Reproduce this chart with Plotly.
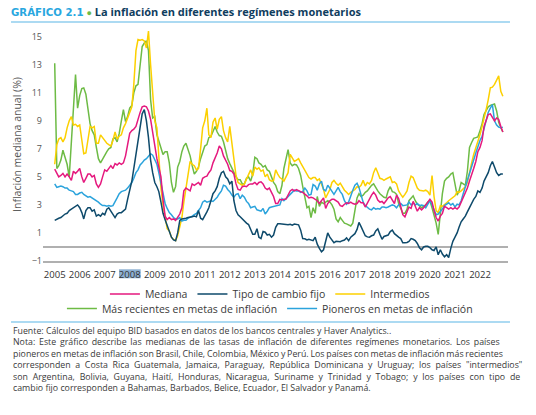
import pandas as pd
import plotly.graph_objects as go

# monthly data, Jan 2005 - Dec 2022 (one row per year)
fechas = pd.date_range("2005-01-01", "2022-12-01", freq="MS")

mediana = [
    5.55, 5.2, 5.0, 5.1, 5.25, 5.0, 5.2, 5.0, 4.75, 5.4, 5.25, 5.4,
    5.6, 5.0, 4.6, 4.9, 5.2, 5.2, 5.0, 5.1, 4.5, 4.25, 4.5, 5.0,
    5.5, 5.4, 5.6, 5.8, 5.6, 5.95, 5.85, 6.0, 5.9, 6.0, 6.5, 7.2,
    8.1, 8.3, 8.4, 8.6, 9.2, 9.6, 10.0, 10.05, 10.0, 9.7, 9.1, 8.1,
    7.0, 6.3, 5.7, 5.0, 3.4, 2.2, 1.95, 2.1, 1.95, 2.0, 1.9, 2.1,
    2.35, 2.8, 4.0, 4.2, 4.1, 4.0, 4.5, 4.4, 4.5, 4.6, 4.4, 4.9,
    5.0, 5.05, 5.3, 5.5, 6.0, 6.35, 6.7, 7.2, 7.0, 6.5, 6.2, 5.9,
    5.45, 5.4, 5.2, 4.5, 4.1, 4.05, 4.3, 4.35, 4.3, 4.45, 4.5, 4.5,
    4.6, 4.45, 4.6, 4.65, 4.5, 4.2, 4.1, 4.2, 3.9, 3.6, 3.1, 3.1,
    3.4, 3.35, 3.4, 3.42, 3.7, 4.0, 4.1, 4.0, 4.1, 4.0, 3.95, 3.9,
    3.8, 3.65, 3.5, 3.55, 3.5, 3.4, 3.3, 3.1, 3.35, 3.5, 2.75, 3.1,
    3.3, 3.4, 3.4, 3.3, 3.2, 2.95, 2.9, 3.05, 3.15, 3.1, 3.2, 3.1,
    3.05, 3.1, 3.3, 3.15, 3.15, 2.85, 3.15, 3.4, 3.7, 3.9, 3.7, 3.35,
    3.2, 3.25, 3.1, 3.3, 3.5, 3.6, 3.3, 3.1, 3.7, 3.45, 2.9, 2.3,
    2.15, 2.5, 2.85, 2.75, 3.25, 2.9, 2.55, 2.8, 2.65, 2.8, 3.05, 3.2,
    3.4, 3.2, 2.6, 2.1, 1.85, 2.2, 2.4, 2.9, 2.8, 2.7, 2.8, 2.7,
    2.8, 2.7, 2.85, 3.2, 3.6, 3.9, 4.2, 4.7, 5.1, 5.6, 6.1, 6.8,
    7.1, 7.6, 8.6, 9.1, 9.45, 9.5, 9.2, 9.0, 9.2, 9.1, 8.6, 8.2,
]

cambio_fijo = [
    1.9, 2.0, 2.05, 2.1, 2.25, 2.35, 2.4, 2.6, 2.7, 2.8, 2.95, 3.0,
    2.8, 2.45, 2.0, 2.6, 2.8, 2.8, 2.55, 2.65, 2.2, 2.3, 2.2, 2.4,
    2.3, 2.7, 2.8, 2.55, 2.3, 2.1, 2.35, 2.45, 2.45, 2.55, 2.7, 3.4,
    4.0, 4.7, 5.6, 6.6, 7.5, 8.6, 9.5, 9.8, 9.0, 7.8, 6.2, 5.3,
    4.6, 4.3, 3.95, 3.2, 2.4, 1.95, 1.5, 1.1, 0.7, 0.5, 0.45, 1.0,
    1.9, 2.0, 2.0, 2.05, 2.1, 2.1, 2.15, 2.2, 2.15, 2.6, 2.05, 1.95,
    2.2, 2.5, 2.8, 3.3, 3.8, 4.0, 4.3, 4.9, 5.3, 5.4, 5.0, 4.85,
    4.5, 4.7, 3.3, 2.6, 2.3, 2.15, 2.0, 1.8, 1.7, 1.6, 1.3, 0.9,
    0.9, 1.3, 0.7, 0.6, 1.1, 1.05, 0.85, 0.9, 0.7, 0.85, 1.4, 1.65,
    1.65, 1.62, 1.63, 1.6, 1.58, 1.62, 1.55, 1.63, 1.6, 1.58, 1.2, 0.6,
    0.58, 0.5, 0.55, 0.5, 0.45, 0.7, 0.2, -0.1, -0.35, -0.2, 0.4, 1.0,
    0.7, 0.45, 0.3, 0.4, 0.4, 0.38, 0.45, 0.5, 0.65, 0.45, 0.7, 0.8,
    0.95, 1.25, 1.75, 1.45, 1.1, 0.8, 0.72, 0.7, 0.8, 0.85, 1.15, 1.3,
    0.9, 0.55, 0.75, 0.78, 0.85, 1.1, 1.2, 0.95, 0.8, 0.7, 0.6, 0.3,
    0.3, 0.32, 0.4, 0.6, 0.55, 0.45, 0.25, -0.05, -0.2, 0.0, 0.05, 0.05,
    -0.05, -0.2, -0.25, 0.0, -0.55, -0.2, -0.5, -0.7, -0.55, -0.75, -0.1, 0.4,
    0.7, 1.0, 1.4, 1.8, 2.0, 2.2, 2.5, 2.8, 3.2, 3.4, 3.6, 4.0,
    3.9, 4.2, 4.7, 5.0, 5.3, 5.8, 6.1, 5.7, 5.3, 5.1, 5.2, 5.2,
]

intermedios = [
    5.9, 7.3, 7.7, 7.8, 7.5, 7.8, 8.5, 9.0, 9.3, 8.7, 8.75, 8.6,
    8.7, 7.5, 6.65, 6.7, 7.6, 8.6, 8.5, 8.6, 7.4, 7.4, 8.0, 7.8,
    7.6, 7.4, 7.3, 7.2, 7.6, 8.2, 7.7, 7.9, 8.0, 8.5, 8.8, 9.2,
    9.6, 10.0, 11.6, 14.0, 14.8, 14.75, 14.8, 14.7, 14.2, 15.4, 13.0, 11.0,
    9.0, 8.5, 6.5, 4.2, 3.0, 2.0, 1.3, 1.15, 0.7, 0.55, 0.45, 0.8,
    1.4, 2.1, 3.2, 4.1, 5.2, 6.1, 5.9, 5.8, 5.5, 5.6, 7.0, 8.5,
    9.0, 9.9, 8.0, 7.8, 8.9, 9.2, 8.4, 9.1, 9.3, 8.3, 7.8, 7.5,
    8.6, 7.5, 6.1, 5.1, 4.6, 4.5, 4.4, 4.5, 4.8, 5.15, 5.5, 5.05,
    5.7, 5.55, 5.65, 5.4, 5.5, 5.0, 5.2, 4.8, 4.7, 4.75, 5.5, 5.2,
    4.95, 4.85, 4.7, 5.0, 5.3, 6.6, 6.35, 6.1, 6.2, 6.3, 6.0, 5.75,
    5.5, 5.15, 4.95, 4.85, 4.95, 4.95, 4.75, 4.85, 4.45, 4.1, 3.5, 3.8,
    4.1, 4.6, 4.75, 4.55, 4.4, 4.55, 4.3, 4.05, 3.9, 3.75, 3.9, 4.0,
    4.1, 4.3, 4.25, 4.4, 4.75, 4.35, 4.6, 4.5, 4.75, 5.3, 5.65, 5.3,
    4.9, 4.85, 4.75, 4.85, 4.9, 5.0, 4.6, 4.65, 4.5, 4.0, 3.75, 3.55,
    3.75, 4.0, 4.6, 5.05, 4.95, 4.6, 4.2, 4.05, 4.0, 4.0, 4.05, 3.95,
    3.7, 5.1, 3.6, 2.6, 2.45, 2.95, 2.9, 3.0, 3.15, 3.3, 3.4, 3.55,
    3.65, 3.95, 3.9, 4.0, 4.15, 4.3, 4.6, 5.4, 6.0, 6.6, 7.05, 7.4,
    8.0, 8.6, 9.3, 9.8, 10.5, 11.35, 11.4, 11.6, 11.9, 12.2, 11.1, 10.75,
]

recientes = [
    13.1, 5.6, 5.8, 6.2, 6.9, 6.3, 5.9, 5.0, 7.5, 9.7, 12.3, 9.9,
    10.8, 11.3, 11.35, 10.9, 9.9, 8.8, 8.3, 8.0, 7.1, 6.3, 6.0, 6.3,
    6.5, 6.8, 7.0, 7.1, 7.7, 7.8, 7.5, 8.1, 9.0, 9.8, 8.95, 9.3,
    9.9, 10.1, 11.0, 11.5, 11.6, 13.0, 14.3, 14.55, 14.7, 14.0, 10.5, 9.2,
    9.3, 8.0, 7.5, 7.1, 6.6, 6.8, 6.8, 6.0, 4.6, 3.9, 4.3, 5.7,
    6.1, 6.8, 7.2, 7.4, 6.9, 6.5, 5.8, 5.2, 5.4, 5.7, 6.3, 6.8,
    7.2, 7.3, 7.8, 7.9, 8.3, 8.6, 8.2, 7.95, 7.9, 7.5, 6.9, 6.3,
    5.95, 5.6, 5.4, 5.0, 4.8, 4.8, 4.5, 4.5, 4.9, 5.0, 4.7, 5.2,
    6.4, 6.3, 6.0, 5.9, 5.7, 5.8, 5.5, 5.4, 5.0, 4.6, 4.4, 3.95,
    3.8, 4.4, 5.6, 6.4, 6.95, 6.0, 5.8, 5.9, 5.85, 5.6, 5.1, 4.3,
    3.4, 2.8, 2.9, 2.1, 2.8, 2.4, 3.6, 2.9, 3.2, 3.1, 3.2, 3.3,
    3.2, 3.0, 2.7, 2.0, 1.8, 2.1, 1.9, 1.7, 1.65, 1.6, 1.5, 1.7,
    2.6, 3.5, 3.8, 3.6, 3.7, 3.9, 4.0, 4.2, 4.4, 4.5, 4.2, 4.0,
    3.8, 3.65, 3.55, 3.5, 4.0, 4.3, 3.95, 3.9, 3.75, 3.1, 2.7, 2.4,
    2.4, 2.7, 3.3, 3.5, 3.65, 3.3, 3.05, 2.95, 2.8, 2.9, 3.0, 3.2,
    3.3, 2.8, 2.35, 1.7, 0.9, 2.4, 3.8, 4.7, 4.9, 5.0, 5.2, 5.3,
    4.5, 3.7, 4.0, 4.6, 4.5, 4.4, 5.4, 7.1, 7.45, 7.75, 7.8, 7.85,
    8.3, 8.8, 9.45, 9.7, 10.0, 10.1, 10.15, 10.2, 9.7, 8.9, 8.5, 8.2,
]

pioneros = [
    4.5, 4.25, 4.3, 4.35, 4.3, 4.2, 4.2, 4.05, 4.0, 3.95, 3.75, 3.75,
    3.85, 3.9, 3.75, 3.65, 3.55, 3.6, 3.5, 3.45, 3.35, 3.2, 3.05, 2.95,
    2.95, 2.9, 2.95, 2.9, 2.95, 3.2, 3.5, 3.8, 3.95, 4.0, 4.05, 4.2,
    4.4, 4.6, 4.9, 5.3, 5.5, 5.85, 6.0, 6.2, 6.3, 6.45, 6.65, 6.55,
    6.2, 5.9, 5.3, 4.6, 3.8, 3.1, 2.75, 2.45, 2.3, 2.1, 2.0, 2.0,
    2.1, 1.85, 1.9, 1.9, 2.05, 2.1, 2.2, 2.3, 2.4, 2.6, 2.8, 3.2,
    3.3, 3.2, 3.25, 3.3, 3.25, 3.4, 3.55, 3.8, 4.0, 4.4, 4.35, 4.1,
    3.95, 3.7, 3.55, 3.75, 3.8, 3.45, 3.7, 3.55, 3.25, 3.1, 2.8, 2.85,
    2.9, 2.65, 2.6, 2.55, 2.75, 2.35, 2.55, 2.8, 2.85, 2.9, 2.9, 3.0,
    3.0, 3.45, 3.3, 3.45, 3.6, 3.75, 3.95, 4.05, 4.0, 4.0, 3.9, 3.95,
    4.2, 4.0, 3.7, 3.75, 4.45, 4.35, 4.05, 4.5, 4.7, 4.1, 4.0, 4.4,
    4.2, 3.95, 3.75, 4.0, 4.25, 3.95, 3.75, 3.3, 3.05, 3.2, 3.7, 4.05,
    4.4, 4.55, 4.25, 3.7, 3.2, 2.95, 2.8, 2.7, 2.65, 2.8, 2.7, 2.75,
    2.7, 2.85, 2.85, 2.8, 2.85, 2.95, 3.0, 2.95, 2.8, 3.0, 3.1, 2.95,
    3.0, 3.0, 3.2, 3.0, 3.15, 3.0, 3.1, 2.95, 3.0, 2.95, 2.8, 3.1,
    3.3, 3.0, 2.6, 2.3, 2.35, 2.5, 2.7, 2.95, 3.05, 3.15, 3.0, 3.1,
    2.85, 3.05, 3.0, 3.3, 3.8, 4.3, 4.8, 5.4, 5.8, 6.2, 6.7, 7.2,
    7.6, 7.9, 8.4, 9.0, 9.6, 9.9, 10.15, 9.0, 8.7, 8.55, 8.5, 8.55,
]

anios = [f"{a}-01-01" for a in range(2005, 2023)]
etiquetas = [str(a) for a in range(2005, 2023)]
y_ticks = [-1, 1, 3, 5, 7, 9, 11, 13, 15]

fuente = "Open Sans"
# note lines, with the word spacing that roughly justifies each one
nota_lineas = [
    ("Fuente: Cálculos del equipo BID basados en datos de los bancos centrales y Haver Analytics..", 0),
    ("Nota: Este gráfico describe las medianas de las tasas de inflación de diferentes regímenes monetarios. Los países", 1.5),
    ("pioneros en metas de inflación son Brasil, Chile, Colombia, México y Perú. Los países con metas de inflación más recientes", -0.5),
    ("corresponden a Costa Rica Guatemala, Jamaica, Paraguay, República Dominicana y Uruguay; los países \"intermedios\"", 2.4),
    ("son Argentina, Bolivia, Guyana, Haití, Honduras, Nicaragua, Suriname y Trinidad y Tobago; y los países con tipo de", 2.5),
    ("cambio fijo corresponden a Bahamas, Barbados, Belice, Ecuador, El Salvador y Panamá.", 0),
]
nota = "<br>".join(
    f"<span style='word-spacing:{ws}px'>{t}</span>" if ws else t for t, ws in nota_lineas
)

fig = go.Figure()
# (name, values, color, legend, rank) -- drawn green first, pink last
series = [
    ("Más recientes en metas de inflación", recientes, "#6dbb45", "legend2", 1),
    ("Intermedios", intermedios, "#fcd000", "legend", 3),
    ("Pioneros en metas de inflación", pioneros, "#2ba3dc", "legend2", 2),
    ("Tipo de cambio fijo", cambio_fijo, "#0e4a6b", "legend", 2),
    ("Mediana", mediana, "#e5197e", "legend", 1),
]
for nombre, vals, color, leg, rank in series:
    fig.add_trace(go.Scatter(
        x=fechas, y=vals, name=nombre, mode="lines",
        line=dict(color=color, width=1.5),
        legend=leg, legendrank=rank,
    ))

fig.update_layout(
    width=536, height=415,
    margin=dict(l=43, r=28, t=28, b=154),
    paper_bgcolor="white", plot_bgcolor="white",
    font=dict(family=fuente, color="#444"),
    title=dict(
        text="<b><span style='color:#29a7df;font-family:DejaVu Sans;font-size:10.2px'>GRÁFICO 2.1</span> "
             "<span style='color:#6dbb45;font-size:9px'>●</span> "
             "La inflación en diferentes regímenes monetarios</b>",
        font=dict(size=11, color="#0f3d5e", family=fuente),
        x=11 / 536, xanchor="left", xref="container",
        y=1 - 12.5 / 415, yanchor="middle", yref="container",
    ),
    xaxis=dict(
        type="date", range=["2004-07-14", "2023-02-14"],
        tickvals=anios, ticktext=etiquetas, showgrid=False,
        showline=True, linecolor="#b0b0b0", linewidth=1.5,
        ticks="", ticklabelstandoff=4, tickfont=dict(size=9.5, color="#333"),
    ),
    yaxis=dict(
        range=[-1, 15.62], tickvals=y_ticks, showgrid=False,
        zeroline=True, zerolinecolor="#b0b0b0", zerolinewidth=1.5,
        ticks="", tickfont=dict(size=9, color="#555"),
        title=dict(text="Inflación mediana anual (%)", standoff=8,
                   font=dict(size=10.5, color="#555")),
    ),
    legend=dict(
        orientation="h", x=0.488, xanchor="center", y=-0.1416, yanchor="middle",
        font=dict(size=10.5, color="#3a3a3a"), itemwidth=30,
        bgcolor="rgba(0,0,0,0)",
    ),
    legend2=dict(
        orientation="h", x=0.488, xanchor="center", y=-0.2039, yanchor="middle",
        font=dict(size=10.5, color="#3a3a3a"), itemwidth=30,
        bgcolor="rgba(0,0,0,0)",
    ),
    shapes=[
        # rule under the title
        dict(type="line", xref="paper", yref="paper", x0=-0.0688, x1=1.0043,
             y0=1.0258, y1=1.0258, line=dict(color="#5bb6e6", width=1.2)),
        # rule above the note
        dict(type="line", xref="paper", yref="paper", x0=-0.0688, x1=1.0043,
             y0=-0.2618, y1=-0.2618, line=dict(color="#5bb6e6", width=1.2)),
        # highlighted "2008" tick label
        dict(type="rect", xref="paper", yref="paper", x0=0.1634, x1=0.2101,
             y0=-0.0742, y1=-0.0356, layer="below", line=dict(width=0),
             fillcolor="rgb(140,175,210)"),
    ],
    annotations=[
        dict(text=nota, xref="paper", yref="paper", x=-0.0688, y=-0.2655,
             xanchor="left", yanchor="top", align="left", showarrow=False,
             font=dict(size=8.8, color="#3a3a3a", family=fuente)),
    ],
)

# drop the default 8px body margin so the figure sits at the page corner
fig.write_html("out.html", config={"displayModeBar": False},
               post_script="document.body.style.margin='0';")
